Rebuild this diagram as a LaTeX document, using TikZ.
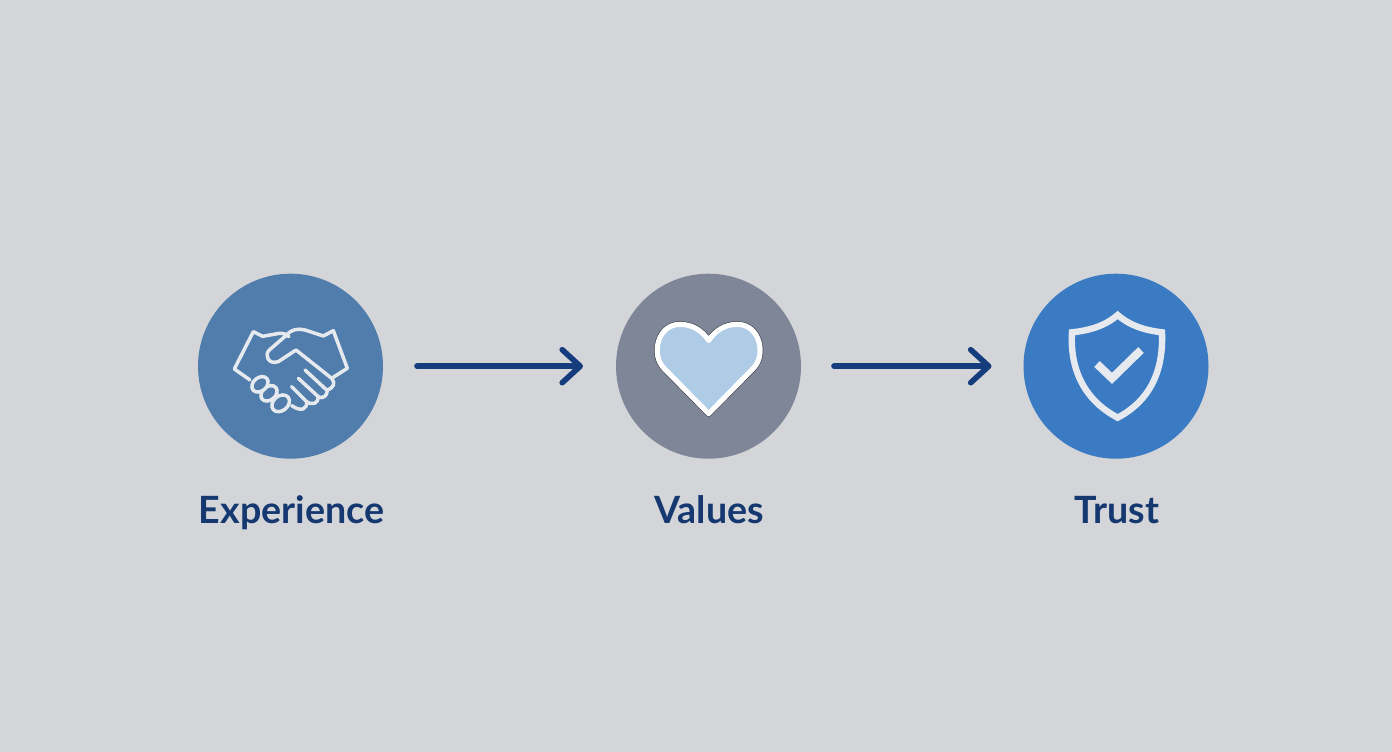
\documentclass[tikz,border=0pt]{standalone}
\usepackage{fontspec}
\setmainfont{Lato}[BoldFont={Lato Bold}]
\usetikzlibrary{arrows.meta}
\definecolor{bgc}{HTML}{D4D5D9}
\definecolor{navy}{HTML}{14386F}
\definecolor{arrowc}{HTML}{153C7C}
\definecolor{cA}{HTML}{507DAC}
\definecolor{cB}{HTML}{7E8698}
\definecolor{cC}{HTML}{3B7BC3}
\definecolor{heartc}{HTML}{AECCE6}
\definecolor{iconc}{HTML}{E6EAEE}
\tikzset{
  disc/.style={circle,minimum size=185pt,inner sep=0pt,outer sep=0pt},
  lab/.style={anchor=base,text=navy,font=\fontsize{37.6}{42}\selectfont\bfseries,inner sep=0pt},
  flow/.style={draw=arrowc,line width=5.6pt,line cap=round,line join=round,
    -{Straight Barb[length=18pt,width=33pt,round,line width=5.6pt]}},
  icon/.style={x=0.3333pt,y=-0.3333pt},
  hand/.style={draw=iconc,line width=3.5pt,line join=round,line cap=round},
}
\begin{document}
\begin{tikzpicture}[x=1pt,y=-1pt]
\useasboundingbox (0,0) rectangle (1392,752);
\fill[bgc] (0,0) rectangle (1392,752);
\node[disc,fill=cA] (exp) at (290.5,366.2) {};
\node[disc,fill=cB] (val) at (708.5,366.2) {};
\node[disc,fill=cC] (tru) at (1116,366.2) {};
\node[lab] (lexp) at (291.5,523) {Experience};
\node[lab] (lval) at (709,523) {Values};
\node[lab] (ltru) at (1117,523) {Trust};
\draw[flow,shorten <=34pt,shorten >=33pt] (exp) -- (val);
\draw[flow,shorten <=33pt,shorten >=32pt] (val) -- (tru);
% handshake
\begin{scope}[shift={(190,265)},icon]
\draw[hand] (180,345) -- (133,312) -- (190,200) -- (218,214) -- (268,205) .. controls (280,204) and (290,208) .. (297,215);
\draw[hand] (425,340) -- (472,310) -- (430,197) -- (400,213) -- (345,195) .. controls (325,190) and (305,192) .. (290,210)
  -- (238,255) .. controls (222,270) and (235,300) .. (265,290) -- (318,255) -- (425,340)
  .. controls (438,355) and (430,368) .. (412,376) .. controls (412,392) and (400,402) .. (385,396)
  .. controls (385,415) and (368,422) .. (350,410) .. controls (352,432) and (335,442) .. (305,422);
\draw[hand] (345,315) -- (410,375);
\draw[hand] (325,340) -- (385,395);
\draw[hand] (305,365) -- (350,410);
\draw[hand,fill=cA,rotate around={40:(272,415)}] (272,415) ellipse [x radius=29,y radius=22];
\draw[hand,fill=cA,rotate around={40:(237,385)}] (237,385) ellipse [x radius=27,y radius=20];
\draw[hand,fill=cA,rotate around={40:(210,358)}] (210,358) ellipse [x radius=27,y radius=20];
\end{scope}
% heart
\begin{scope}[shift={(610,265)},icon]
\def\heartpath{(296,446) -- (162,310) .. controls (122,270) and (142,178) .. (210,178) .. controls (245,178) and (275,195) .. (296,226) .. controls (317,195) and (347,178) .. (382,178) .. controls (450,178) and (470,270) .. (430,310) -- cycle}
\draw[draw=black!65!cB,line width=6.2pt,line join=round] \heartpath;
\draw[draw=white,fill=heartc,line width=5.2pt,line join=round] \heartpath;
\end{scope}
% shield
\begin{scope}[shift={(1016,265)},icon]
\draw[draw=iconc,line width=6.4pt,line join=miter]
  (305,150) .. controls (265,185) and (215,197) .. (168,202)
  .. controls (162,300) and (195,400) .. (305,458)
  .. controls (415,400) and (442,300) .. (438,202)
  .. controls (395,197) and (345,185) .. (305,150) -- cycle;
\draw[draw=iconc,line width=8pt,line join=miter] (243,297) -- (288,340) -- (375,255);
\end{scope}
\end{tikzpicture}
\end{document}
